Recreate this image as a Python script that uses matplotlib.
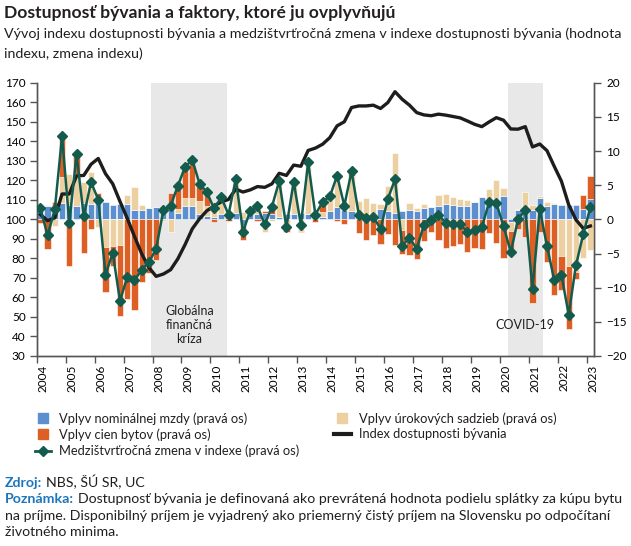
import matplotlib
matplotlib.use("Agg")
import matplotlib.pyplot as plt
import numpy as np
from matplotlib.lines import Line2D

plt.rcParams['font.family'] = ['Lato', 'DejaVu Sans']
plt.rcParams['text.color'] = '#231f20'

# quarterly data 2004Q1 - 2023Q1
years = [str(y) for y in range(2004, 2024)]

wage = [2.2, 2.0, 1.4, 2.4, 2.1, 2.0, 2.4, 2.3, 2.6, 2.6,
        2.1, 2.2, 2.3, 1.4, 1.4, 1.7, 1.8, 1.7, 1.6, 0.9,
        2.0, 1.9, 0.85, 0.5, 0.4, 0.75, 0.65, 0.9, -0.8, 0.8,
        0.85, 0.9, 0.75, 0.35, 0.8, 0.85, 0.9, 0.85, 0.85, 0.4,
        1.15, 1.75, 1.35, 1.15, 1.1, 0.65, 0.85, 1.5, 1.25, 0.9,
        1.25, 1.35, 1.2, 1.6, 1.75, 1.9, 2.2, 2.15, 2.0, 2.0,
        2.6, 3.2, 2.1, 2.5, 3.35, -0.35, 1.3, 1.35, 1.3, 3.15,
        1.9, 2.2, 2.15, 2.1, 2.15, 1.5, 2.95]

rates = [0.0, 0.1, -1.0, 3.8, 4.6, 4.6, 3.1, 4.6, -1.05, -4.0,
         -3.9, -3.7, 1.2, 3.4, 0.7, 0.0, 0.0, -0.3, -1.85, 0.6,
         1.1, 1.2, 1.9, 1.5, 1.5, 2.0, 0.2, 4.8, 1.1, 0.5,
         1.3, -1.85, -0.3, 5.1, -1.4, 4.6, -1.7, 7.4, 0.15, 0.7,
         2.2, 4.7, 1.35, 5.2, 1.6, 2.5, 1.6, 0.8, 3.7, 8.8,
         -1.5, 1.1, 0.45, 0.6, 0.1, 1.65, 1.55, 1.05, 1.0, 0.9,
         0.0, 0.0, 2.3, 3.2, 1.3, -1.3, 0.2, 2.6, 0.8, 0.2,
         0.7, 0.15, -5.3, -6.9, -7.7, -5.7, -4.5]

prices = [-0.6, -4.4, 1.1, 5.7, -6.9, 2.8, -4.9, -1.4, 1.3, -6.7,
          -3.0, -10.5, -11.7, -13.2, -9.2, -7.9, -6.0, 0.0, 2.3, 3.3,
          4.5, 5.2, 2.4, 2.0, -0.4, 0.4, -0.25, 0.2, -2.2, 0.0,
          -0.2, 0.3, 1.3, 0.0, -0.5, 0.0, -0.2, 0.0, -0.4, 1.3,
          0.0, -0.2, -0.7, 0.6, -1.95, -3.0, -2.3, -3.6, -2.1, -3.8,
          -3.6, -5.25, -5.85, -3.2, -1.9, -2.95, -4.25, -3.9, -3.6, -4.85,
          -4.2, -4.4, -2.0, -3.4, -5.7, -3.15, -1.45, -2.65, -12.2, -1.9,
          -6.3, -11.1, -5.0, -9.2, -1.1, 2.0, 3.4]

yoy_change = [1.6, -2.35, 1.45, 12.2, -0.55, 9.5, 0.45, 5.45, 2.9, -8.1,
              -4.9, -11.9, -8.5, -8.9, -7.4, -6.3, -4.3, 1.35, 2.0, 4.9,
              7.7, 8.7, 5.2, 4.0, 1.6, 3.2, 0.7, 5.9, -1.8, 1.25,
              1.9, -0.75, 1.85, 5.6, -1.1, 5.5, -0.8, 8.35, 0.7, 2.55,
              3.35, 6.4, 2.0, 7.05, 0.7, 0.2, 0.4, -1.4, 2.95, 5.85,
              -3.85, -2.7, -4.3, -0.8, -0.1, 0.65, -0.5, -0.7, -0.65, -1.9,
              -1.6, -1.15, 2.5, 2.35, -1.0, -4.8, 0.0, 1.4, -10.2, 1.5,
              -3.9, -8.9, -8.15, -13.95, -6.75, -2.2, 1.75]

afford_index = [102.5, 99.3, 100.8, 113.0, 113.0, 122.3, 122.5, 128.2, 131.2, 123.4,
                118.2, 109.2, 100.6, 91.3, 82.4, 75.3, 70.8, 72.0, 74.2, 79.8,
                87.1, 95.2, 100.3, 104.4, 106.8, 109.0, 110.2, 115.5, 114.0, 115.1,
                116.8, 116.4, 118.2, 123.6, 122.5, 127.8, 127.2, 135.3, 136.5, 138.5,
                141.9, 147.9, 150.0, 157.3, 158.1, 158.1, 158.5, 156.8, 159.8, 165.4,
                161.5, 158.5, 154.7, 153.5, 153.1, 153.9, 153.4, 152.7, 152.0, 150.4,
                148.7, 147.5, 149.9, 152.1, 150.8, 146.3, 146.2, 147.5, 137.1, 138.6,
                135.2, 127.2, 119.5, 107.5, 99.8, 95.4, 96.6]

gfc_span = (15.3, 25.85)
covid_span = (64.6, 69.4)

c_blue = '#5b8fcf'
c_beige = '#ecd0a2'
c_orange = '#de5f24'
c_green = '#135c4d'
c_black = '#1d1d1b'
c_axis = '#555555'
c_label = '#1c75bc'

x = np.arange(len(afford_index))

fig = plt.figure(figsize=(6.31, 5.46), dpi=100)
ax = fig.add_axes([0.0582, 0.348, 0.8832, 0.5005])
ax2 = ax.twinx()

ax.axvspan(*gfc_span, color='#e8e8e8', lw=0, zorder=0)
ax.axvspan(*covid_span, color='#e8e8e8', lw=0, zorder=0)

# stacked bars, positives up and negatives down separately
pos_base = np.zeros(len(x))
neg_base = np.zeros(len(x))
for vals, col in [(wage, c_blue), (rates, c_beige), (prices, c_orange)]:
    v = np.array(vals)
    base = np.where(v >= 0, pos_base, neg_base)
    ax2.bar(x, v, bottom=base, width=0.86, color=col, edgecolor='white',
            linewidth=0.4, zorder=2)
    pos_base += np.where(v > 0, v, 0)
    neg_base += np.where(v < 0, v, 0)

# index on the left scale, drawn above the bars
ax2.plot(x, afford_index, color=c_black, lw=2.4, solid_joinstyle='round',
         transform=ax.transData, zorder=3)
ax2.plot(x, yoy_change, color=c_green, lw=1.8, marker='D', markersize=5,
         zorder=4)

ax.set_xlim(-0.5, len(x) - 0.5)
ax.set_ylim(30, 170)
ax.set_yticks(np.arange(30, 171, 10))
ax2.set_ylim(-20, 20)
ax2.set_yticks(np.arange(-20, 21, 5))

ax.set_xticks(np.arange(-0.5, len(x), 4))
ax.set_xticklabels([])
ax.set_xticks(np.arange(0, len(x), 4) + 0.35, minor=True)
ax.set_xticklabels(years, minor=True, rotation=90)
ax.tick_params(axis='x', which='minor', length=0, pad=6, labelsize=8.5)
ax.tick_params(axis='x', which='major', length=5, width=1, color=c_axis)
ax.tick_params(axis='y', length=5, width=1, color=c_axis, pad=3, labelsize=8.5)
ax2.tick_params(axis='y', length=5, width=1, color=c_axis, pad=4, labelsize=8.5)

for a in (ax, ax2):
    a.spines['top'].set_visible(False)
    for s in ('left', 'right', 'bottom'):
        a.spines[s].set_color(c_axis)
        a.spines[s].set_linewidth(1)

ax2.text(np.mean(gfc_span), -15.4, 'Globálna\nfinančná\nkríza', ha='center',
         va='center', fontsize=9, linespacing=1.2, zorder=5)
ax2.text(np.mean(covid_span), -15.5, 'COVID-19', ha='center', va='center',
         fontsize=9, zorder=5)

# titles
fig.text(0.006, 1 - 18 / 546, 'Dostupnosť bývania a faktory, ktoré ju ovplyvňujú',
         fontsize=12.6, fontweight='bold', va='baseline')
fig.text(0.006, 1 - 38.5 / 546,
         'Vývoj indexu dostupnosti bývania a medzištvrťročná zmena v indexe dostupnosti bývania (hodnota',
         fontsize=10.3, va='baseline')
fig.text(0.006, 1 - 58.5 / 546, 'indexu, zmena indexu)', fontsize=10.3, va='baseline')

# legend
h_wage = Line2D([], [], ls='none', marker='s', markersize=7, color=c_blue)
h_prices = Line2D([], [], ls='none', marker='s', markersize=7, color=c_orange)
h_rates = Line2D([], [], ls='none', marker='s', markersize=7, color=c_beige)
h_yoy = Line2D([], [], color=c_green, lw=2, marker='D', markersize=5)
h_index = Line2D([], [], color=c_black, lw=3)

leg_kw = dict(frameon=False, fontsize=9.3, handlelength=1.3, handletextpad=0.62,
              labelspacing=0.3, borderpad=0, borderaxespad=0)
fig.legend([h_wage, h_prices, h_yoy],
           ['Vplyv nominálnej mzdy (pravá os)', 'Vplyv cien bytov (pravá os)',
            'Medzištvrťročná zmena v indexe (pravá os)'],
           loc='upper left', bbox_to_anchor=(34.6 / 631, 1 - 412 / 546), **leg_kw)
fig.legend([h_rates, h_index],
           ['Vplyv úrokových sadzieb (pravá os)', 'Index dostupnosti bývania'],
           loc='upper left', bbox_to_anchor=(334 / 631, 1 - 412 / 546), **leg_kw)

# source and note
note_lines = [
    ('Zdroj:', 'NBS, ŠÚ SR, UC'),
    ('Poznámka:', 'Dostupnosť bývania je definovaná ako prevrátená hodnota podielu splátky za kúpu bytu'),
    (None, 'na príjme. Disponibilný príjem je vyjadrený ako priemerný čistý príjem na Slovensku po odpočítaní'),
    (None, 'životného minima.'),
]
y0 = 487
for k, (lab, txt) in enumerate(note_lines):
    yy = 1 - (y0 + 16.4 * k) / 546
    if lab:
        t = fig.text(0.008, yy, lab, fontsize=10.2, fontweight='bold', color=c_label,
                     va='baseline')
        ax.annotate(txt, xy=(1, 0), xycoords=t, xytext=(2.5, 0),
                    textcoords='offset points', va='bottom', ha='left',
                    fontsize=10.2, annotation_clip=False)
    else:
        fig.text(0.008, yy, txt, fontsize=10.2, va='baseline')

fig.savefig('out.png', dpi=100)
